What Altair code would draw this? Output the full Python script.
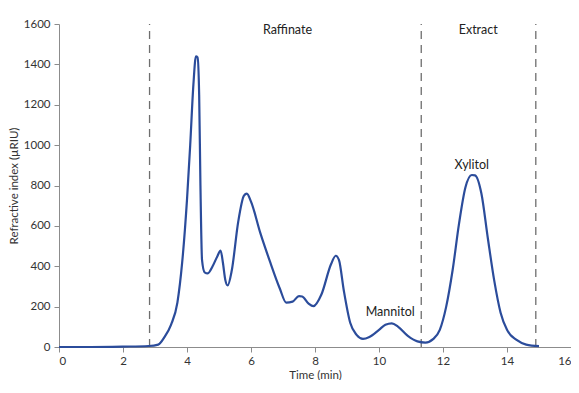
import altair as alt
import pandas as pd

time = [0, 1, 2, 2.8, 3.1, 3.3, 3.5, 3.7, 3.85, 4.0, 4.1, 4.2, 4.28, 4.33, 4.38, 4.42, 4.47,
        4.55, 4.65, 4.8, 4.95, 5.05, 5.12, 5.2, 5.27, 5.4, 5.6, 5.78, 5.87, 6.0, 6.3, 6.6,
        6.9, 7.1, 7.3, 7.5, 7.6, 7.8, 7.95, 8.2, 8.5, 8.65, 8.75, 8.9, 9.1, 9.3, 9.5, 9.7,
        10.0, 10.2, 10.4, 10.6, 10.9, 11.2, 11.45, 11.7, 11.9, 12.1, 12.3, 12.5, 12.7, 12.9,
        13.0, 13.2, 13.4, 13.6, 13.8, 14.0, 14.3, 14.6, 15.0]
signal = [0, 0, 2, 5, 12, 50, 110, 220, 420, 730, 1000, 1300, 1440, 1435, 1250, 800, 430,
          370, 365, 400, 450, 478, 420, 330, 305, 380, 620, 750, 760, 720, 560, 420,
          290, 220, 225, 252, 250, 215, 202, 260, 410, 452, 430, 280, 120, 60, 40, 50,
          85, 110, 117, 100, 55, 28, 22, 40, 85, 200, 380, 610, 790, 852,
          850, 760, 540, 330, 170, 85, 35, 12, 4]

divider_x = [2.83, 11.32, 14.9]

label_text = ["Raffinate", "Extract", "Xylitol", "Mannitol"]
label_x = [7.14, 13.1, 12.9, 10.35]
label_y = [1570, 1570, 904, 173]

FONT = "Lato"

df = pd.DataFrame({"t": time, "v": signal})
dv = pd.DataFrame({"x": divider_x, "y0": [0] * 3, "y1": [1600] * 3})
dl = pd.DataFrame({"text": label_text, "x": label_x, "y": label_y})

xs = alt.Scale(domain=[0, 16], nice=False, zero=False)
ys = alt.Scale(domain=[0, 1600], nice=False)

line = alt.Chart(df).mark_line(color="#2b4c9b", strokeWidth=2.2, interpolate="monotone").encode(
    x=alt.X("t:Q", scale=xs, title="Time (min)",
            axis=alt.Axis(values=list(range(0, 17, 2)), format="d", grid=False, tickSize=5,
                          labelPadding=3, titlePadding=3, labelFlush=True, labelOverlap=False)),
    y=alt.Y("v:Q", scale=ys, title="Refractive index (µRIU)",
            axis=alt.Axis(values=list(range(0, 1601, 200)), format="d", grid=False, tickSize=5,
                          labelPadding=4, titlePadding=4, labelOverlap=False, labelFlush=False)),
)

rules = alt.Chart(dv).mark_rule(color="#6e6e6e", strokeWidth=1.3, strokeDash=[8, 6]).encode(
    x=alt.X("x:Q", scale=xs),
    y=alt.Y("y0:Q", scale=ys),
    y2="y1:Q",
)

labels = alt.Chart(dl).mark_text(font=FONT, fontSize=12.5, color="#222", baseline="middle").encode(
    x=alt.X("x:Q", scale=xs),
    y=alt.Y("y:Q", scale=ys),
    text="text:N",
)

chart = alt.layer(rules, line, labels).properties(
    width=512, height=323,
    autosize=alt.AutoSizeParams(type="none"),
    padding={"left": 51, "top": 16, "right": 0, "bottom": 33},
).configure_view(stroke=None).configure_axis(
    domainColor="#8c8c8c", tickColor="#8c8c8c", labelColor="#333", titleColor="#333",
    labelFont=FONT, titleFont=FONT, labelFontSize=11.5, titleFontSize=11.5,
    titleFontWeight="normal",
)

chart.save("out.html", embed_options={"renderer": "svg", "actions": False})
